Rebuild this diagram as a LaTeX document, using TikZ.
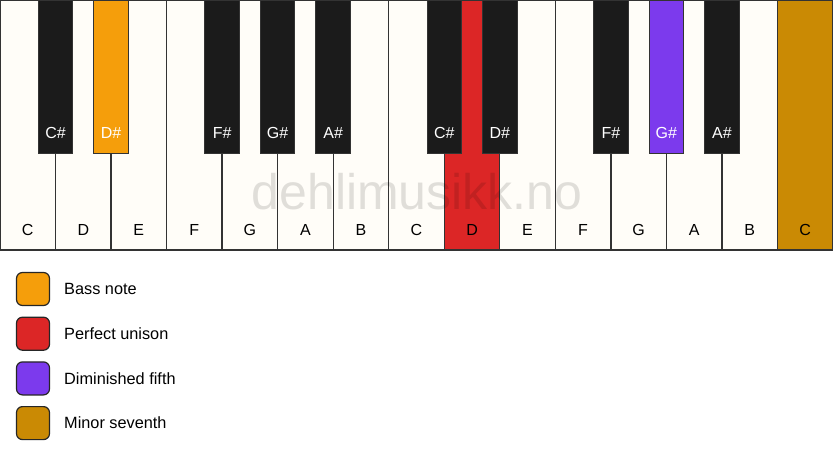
\documentclass[tikz,border=0pt]{standalone}
\usepackage{fontspec}
\setmainfont{Liberation Sans}
\definecolor{wkey}{HTML}{FFFDF8}
\definecolor{bkey}{HTML}{1B1B1B}
\definecolor{keyline}{HTML}{333333}
\definecolor{bass}{HTML}{F59E0B}
\definecolor{unison}{HTML}{DC2626}
\definecolor{dimfifth}{HTML}{7C3AED}
\definecolor{minseventh}{HTML}{CA8A04}
\tikzset{
  whitekey/.style={draw=keyline, line width=1.3pt, fill=wkey, rectangle, anchor=north west, minimum width=55.533pt, minimum height=250pt, inner sep=0pt, outer sep=0pt},
  blackkey/.style={draw=keyline, line width=1pt, fill=bkey, rectangle, anchor=north, minimum width=34.5pt, minimum height=153pt, inner sep=0pt, outer sep=0pt},
  wlabel/.style={font=\fontsize{16}{16}\selectfont, text=black, anchor=center, inner sep=0pt},
  blabel/.style={font=\fontsize{16}{16}\selectfont, text=white, anchor=center, inner sep=0pt},
  legendbox/.style={draw=black!85, line width=1.2pt, rounded corners=6pt, minimum width=33pt, minimum height=33pt, inner sep=0pt, anchor=center},
  legendtext/.style={font=\fontsize{16.3}{16.3}\selectfont, anchor=west, inner sep=0pt},
  watermark/.style={font=\fontsize{50}{50}\selectfont, text=black, text opacity=0.12, anchor=center, inner sep=0pt}
}
\begin{document}
\begin{tikzpicture}[x=1pt,y=1pt]
\useasboundingbox (0,0) rectangle (833,-461);
\fill[white] (0,0) rectangle (833,-461);
% white keys
\foreach \i/\n/\c in {0/C/wkey,1/D/wkey,2/E/wkey,3/F/wkey,4/G/wkey,5/A/wkey,6/B/wkey,7/C/wkey,8/D/unison,9/E/wkey,10/F/wkey,11/G/wkey,12/A/wkey,13/B/wkey,14/C/minseventh}{
  \node[whitekey, fill=\c] (w\i) at ({\i*55.533},0) {};
  \node[wlabel] (wl\i) at ({(\i+0.5)*55.533},-230) {\n};
}
% watermark
\node[watermark] (wm) at (417,-192) {dehlimusikk.no};
% black keys
\foreach \b/\n/\c in {1/C\#/bkey,2/D\#/bass,4/F\#/bkey,5/G\#/bkey,6/A\#/bkey,8/C\#/bkey,9/D\#/bkey,11/F\#/bkey,12/G\#/dimfifth,13/A\#/bkey}{
  \node[blackkey, fill=\c] (b\b) at ({\b*55.533},0) {};
  \node[blabel] (bl\b) at ({\b*55.533},-133) {\n};
}
% legend
\foreach \k/\c/\t in {0/bass/Bass note,1/unison/Perfect unison,2/dimfifth/Diminished fifth,3/minseventh/Minor seventh}{
  \node[legendbox, fill=\c] (lb\k) at (33,{-289-\k*44.7}) {};
  \node[legendtext] (lt\k) at (64,{-289-\k*44.7}) {\t};
}
\end{tikzpicture}
\end{document}
